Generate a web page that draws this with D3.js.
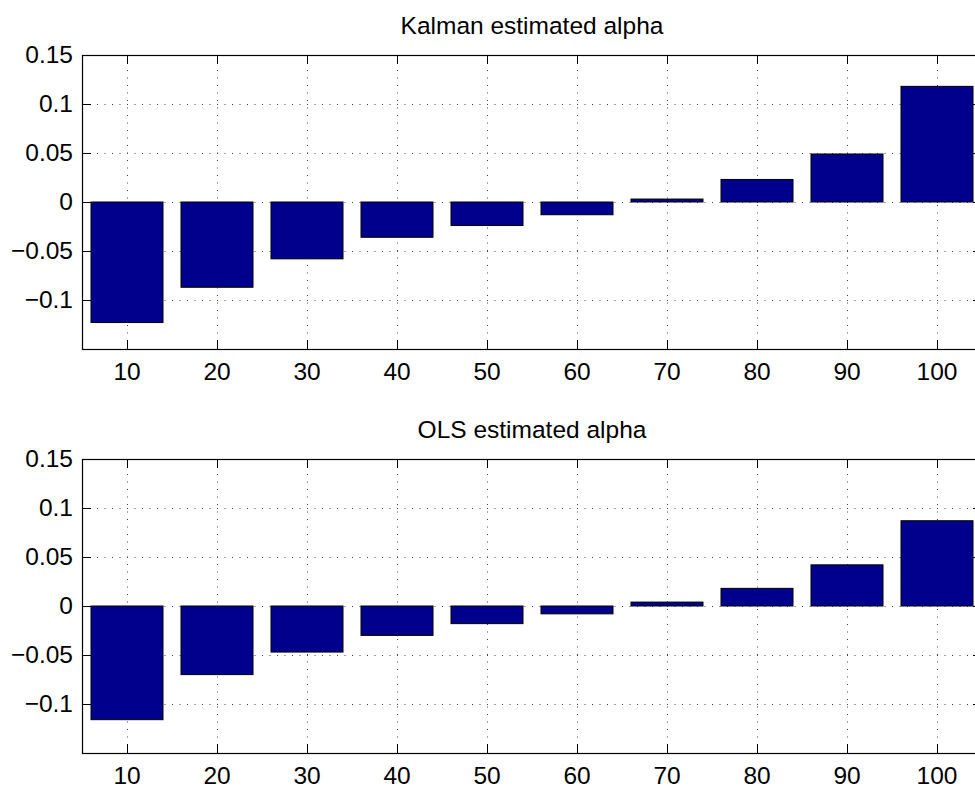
<!DOCTYPE html>
<html>
<head>
<meta charset="utf-8">
<script src="https://cdn.jsdelivr.net/npm/d3@7"></script>
<style>
  html, body { margin: 0; padding: 0; background: #fff; }
  svg { display: block; }
  text { font-family: "Liberation Sans", Arial, Helvetica, sans-serif; fill: #000; }
</style>
</head>
<body>
<svg id="chart" width="975" height="786"></svg>
<script>
// Window lengths (categories) and estimated alpha per model
const categories = [10, 20, 30, 40, 50, 60, 70, 80, 90, 100];
const kalmanAlpha = [-0.123, -0.087, -0.058, -0.036, -0.024, -0.013, 0.003, 0.023, 0.049, 0.118];
const olsAlpha    = [-0.116, -0.070, -0.047, -0.030, -0.018, -0.008, 0.004, 0.018, 0.042, 0.087];
const yTicks = [-0.1, -0.05, 0, 0.05, 0.1, 0.15];
const yDomain = [-0.15, 0.15];
const titles = ["Kalman estimated alpha", "OLS estimated alpha"];

const svg = d3.select("#chart");
const left = 82, right = 982;
const panelTops = [55, 459];
const panelHeight = 294;
const tickLen = 9;
const fontSize = 24.5;
const barColor = "#00008c";

const x = d3.scaleBand()
  .domain(categories)
  .range([left, right])
  .paddingInner(0.2)
  .paddingOuter(0.1);

const fmt = d => d === 0 ? "0" : d3.format("~g")(d);

function drawPanel(values, title, top) {
  const bottom = top + panelHeight;
  const y = d3.scaleLinear().domain(yDomain).range([bottom, top]);
  const g = svg.append("g");
  const cx = c => x(c) + x.bandwidth() / 2;

  // dotted grid, below the bars
  const grid = g.append("g")
    .attr("stroke", "#444")
    .attr("stroke-width", 1)
    .attr("stroke-dasharray", "1 6.5");
  grid.selectAll("line.v").data(categories).join("line")
    .attr("class", "v")
    .attr("x1", c => Math.round(cx(c)) + 0.5).attr("x2", c => Math.round(cx(c)) + 0.5)
    .attr("y1", top).attr("y2", bottom);
  grid.selectAll("line.h").data(yTicks.filter(t => t < yDomain[1])).join("line")
    .attr("class", "h")
    .attr("x1", left).attr("x2", right)
    .attr("y1", t => Math.round(y(t)) + 0.5).attr("y2", t => Math.round(y(t)) + 0.5);

  // bars from zero
  g.append("g").selectAll("rect").data(categories).join("rect")
    .attr("x", c => x(c))
    .attr("width", x.bandwidth())
    .attr("y", (c, i) => Math.min(y(values[i]), y(0)))
    .attr("height", (c, i) => Math.abs(y(values[i]) - y(0)))
    .attr("fill", barColor)
    .attr("stroke", "#000")
    .attr("stroke-width", 1);

  // inward tick marks on all four sides
  const ticks = g.append("g").attr("stroke", "#000").attr("stroke-width", 1);
  categories.forEach(c => {
    const px = Math.round(cx(c)) + 0.5;
    ticks.append("line").attr("x1", px).attr("x2", px).attr("y1", bottom).attr("y2", bottom - tickLen);
    ticks.append("line").attr("x1", px).attr("x2", px).attr("y1", top).attr("y2", top + tickLen);
  });
  yTicks.forEach(t => {
    const py = Math.round(y(t)) + 0.5;
    ticks.append("line").attr("x1", left).attr("x2", left + tickLen).attr("y1", py).attr("y2", py);
    ticks.append("line").attr("x1", right).attr("x2", right - tickLen).attr("y1", py).attr("y2", py);
  });

  // axes box
  g.append("rect")
    .attr("x", left + 0.5).attr("y", top + 0.5)
    .attr("width", right - left).attr("height", panelHeight)
    .attr("fill", "none").attr("stroke", "#000").attr("stroke-width", 1.2);

  // tick labels
  const xAxis = g.append("g")
    .attr("transform", `translate(0,${bottom})`)
    .call(d3.axisBottom(x).tickSize(0).tickPadding(13.5));
  const yAxis = g.append("g")
    .attr("transform", `translate(${left},0)`)
    .call(d3.axisLeft(y).tickValues(yTicks).tickFormat(fmt).tickSize(0).tickPadding(9));
  [xAxis, yAxis].forEach(a => {
    a.select(".domain").remove();
    a.attr("font-family", null).attr("font-size", null);
    a.selectAll("text").style("font-size", fontSize + "px").attr("fill", "#000");
  });

  // panel title
  g.append("text")
    .attr("x", (left + right) / 2)
    .attr("y", top - 21)
    .attr("text-anchor", "middle")
    .style("font-size", fontSize + "px")
    .text(title);
}

drawPanel(kalmanAlpha, titles[0], panelTops[0]);
drawPanel(olsAlpha, titles[1], panelTops[1]);
</script>
</body>
</html>
